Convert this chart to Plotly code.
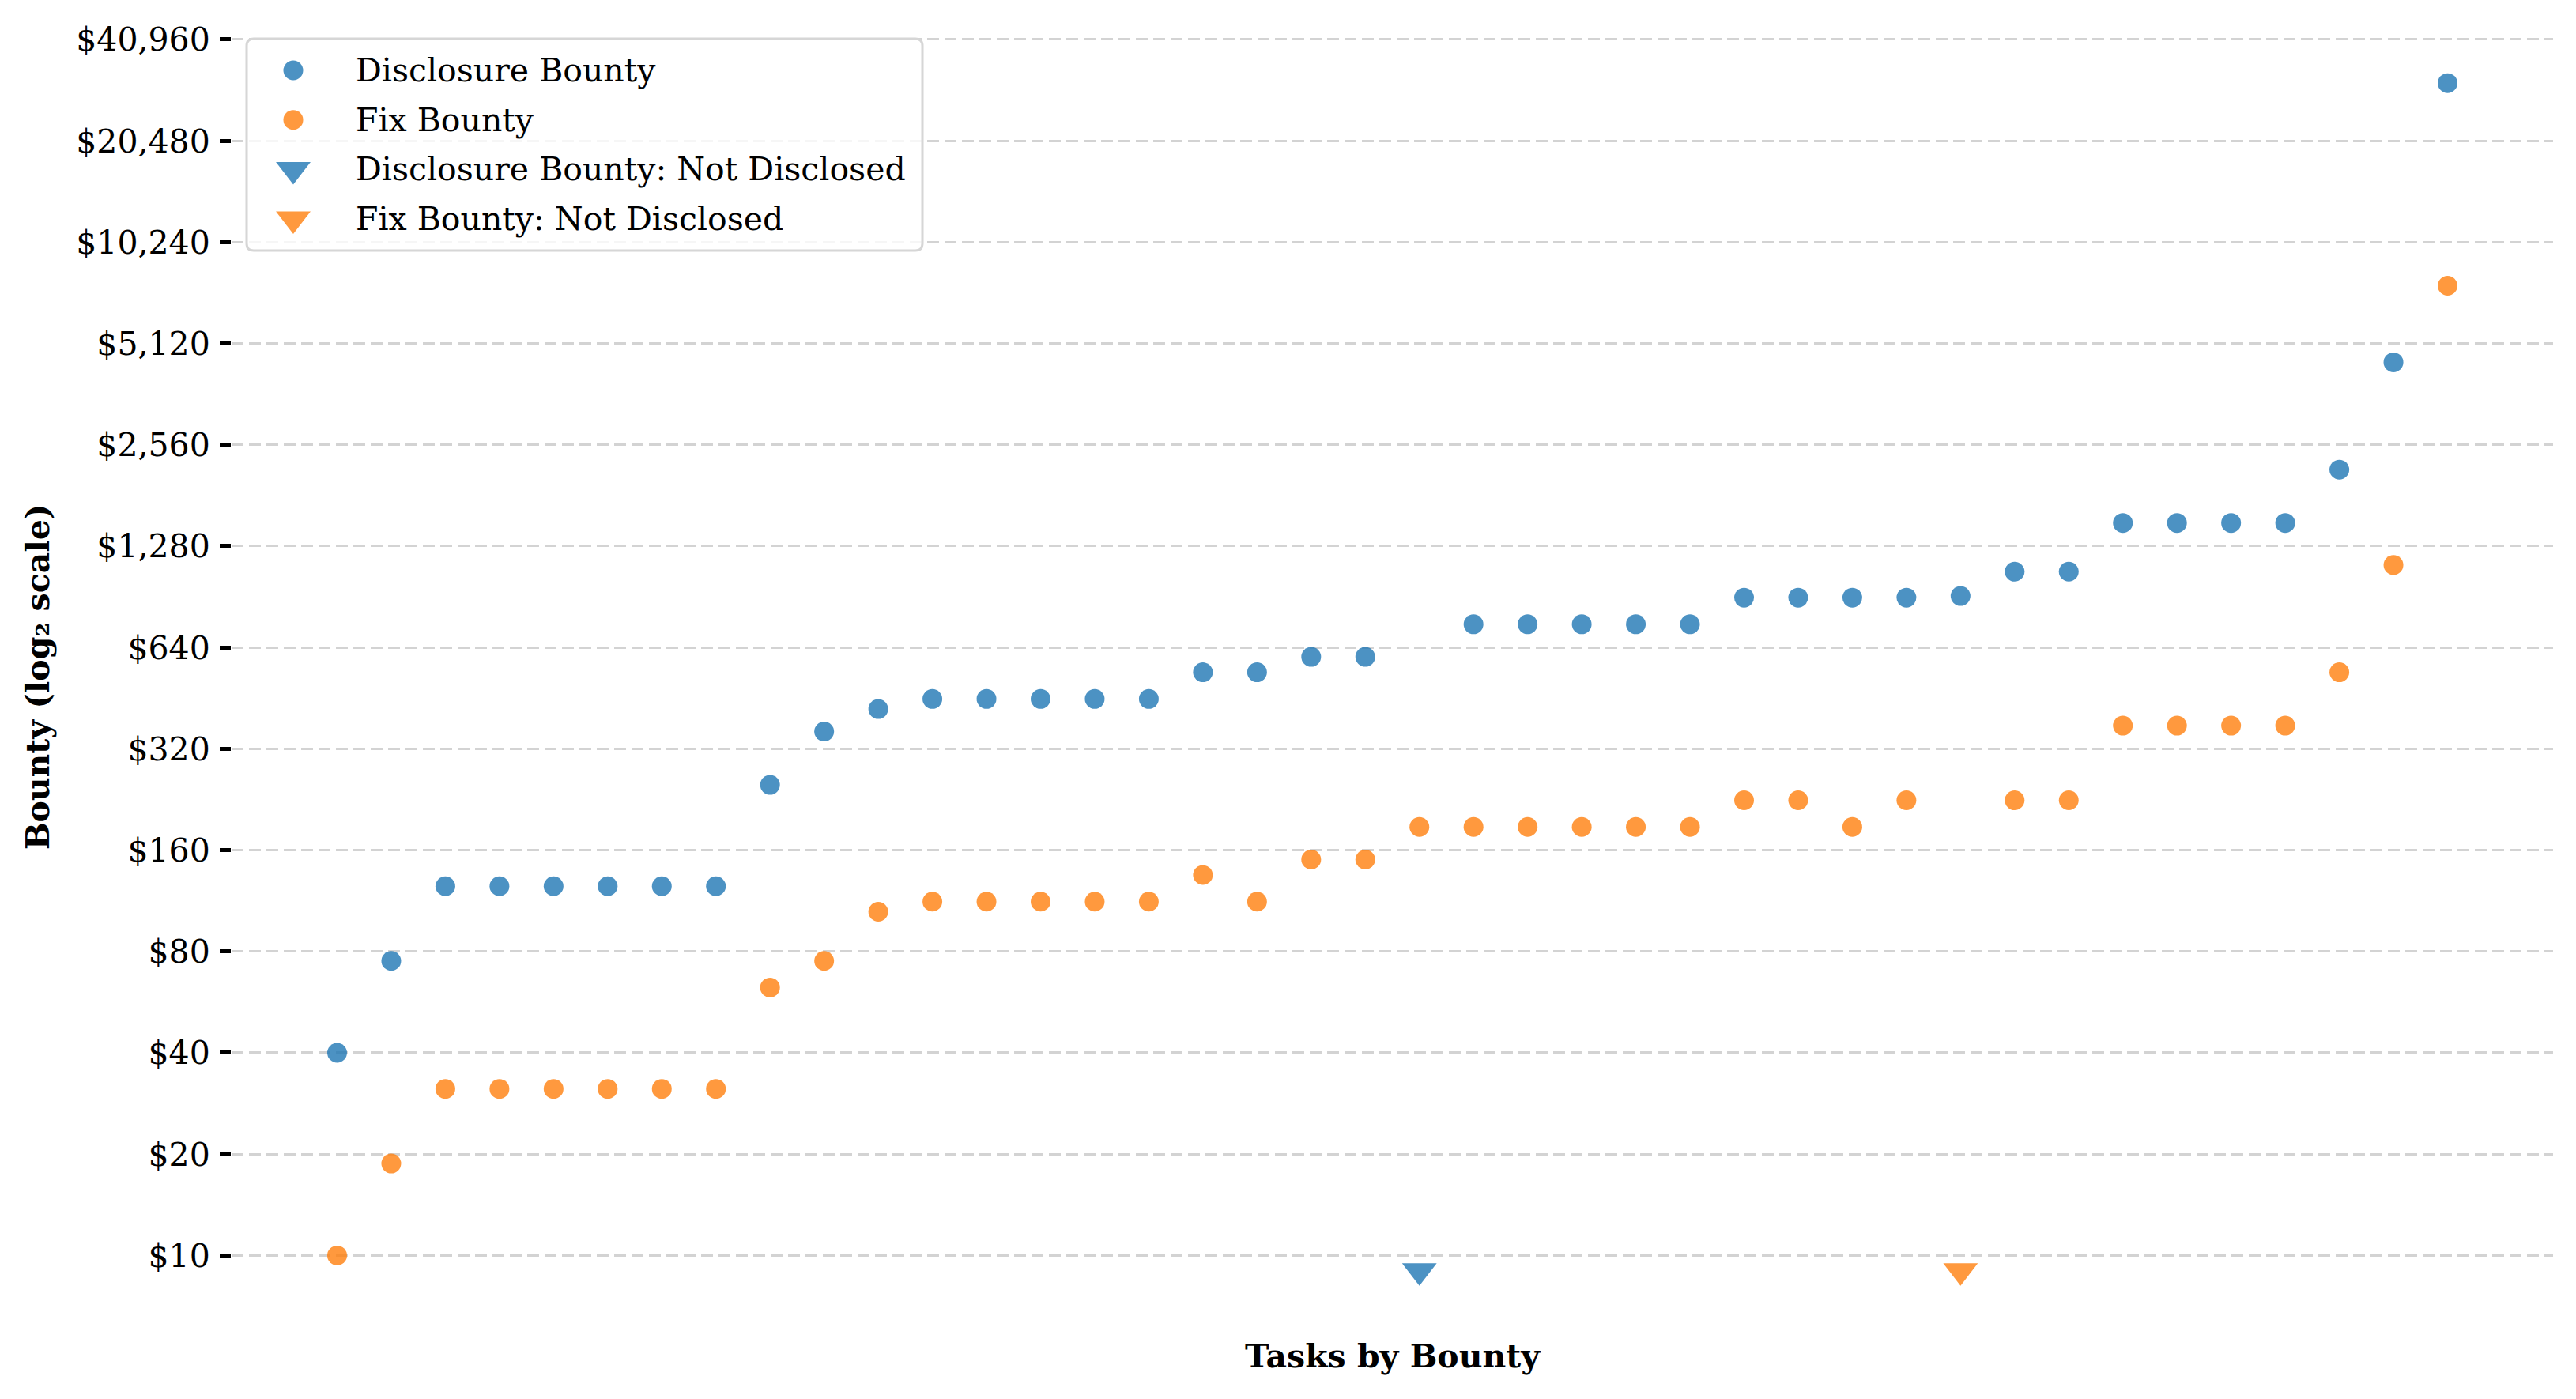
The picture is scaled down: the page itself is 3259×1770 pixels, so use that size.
import math
import plotly.graph_objects as go

# ---- data ----
tasks = list(range(40))
disclosure_bounty = [40, 75, 125, 125, 125, 125, 125, 125, 250, 360, 420,
                     450, 450, 450, 450, 450, 540, 540, 600, 600, None,
                     750, 750, 750, 750, 750, 900, 900, 900, 900, 910,
                     1075, 1075, 1500, 1500, 1500, 1500, 2160, 4500, 30400]
fix_bounty = [10, 18.75, 31.25, 31.25, 31.25, 31.25, 31.25, 31.25, 62.5, 75, 105,
              112.5, 112.5, 112.5, 112.5, 112.5, 135, 112.5, 150, 150, 187.5,
              187.5, 187.5, 187.5, 187.5, 187.5, 225, 225, 187.5, 225, None,
              225, 225, 375, 375, 375, 375, 540, 1125, 7600]
not_disclosed_value = 9
tick_values = [10, 20, 40, 80, 160, 320, 640, 1280, 2560, 5120, 10240, 20480, 40960]
tick_labels = [f"${v:,}" for v in tick_values]
series_names = ["Disclosure Bounty", "Fix Bounty",
                "Disclosure Bounty: Not Disclosed", "Fix Bounty: Not Disclosed"]

# ---- styles ----
BLUE = "#1f77b4"
ORANGE = "#ff7f0e"
FONT = "DejaVu Serif"
FS = 41
DOT = 25
TRI = 38

W, H = 3259, 1770
ml, mr, mt, mb = 293, 29, 30, 87
pw, ph = W - ml - mr, H - mt - mb

# legend layout (figure pixels)
LEG_X0, LEG_Y0, LEG_X1, LEG_Y1 = 312, 49, 1167, 317
LEG_ROW0, LEG_ROW_STEP = 89, 62.7
LEG_SYM_X, LEG_TEXT_X = 371, 448
LEG_R = 9

disc_x = [t for t, v in zip(tasks, disclosure_bounty) if v is not None]
disc_y = [v for v in disclosure_bounty if v is not None]
fix_x = [t for t, v in zip(tasks, fix_bounty) if v is not None]
fix_y = [v for v in fix_bounty if v is not None]
disc_nd_x = [t for t, v in zip(tasks, disclosure_bounty) if v is None]
fix_nd_x = [t for t, v in zip(tasks, fix_bounty) if v is None]

series_styles = [
    dict(color=BLUE, size=DOT, symbol="circle"),
    dict(color=ORANGE, size=DOT, symbol="circle"),
    dict(color=BLUE, size=TRI, symbol="triangle-down"),
    dict(color=ORANGE, size=TRI, symbol="triangle-down"),
]
series_xy = [
    (disc_x, disc_y),
    (fix_x, fix_y),
    (disc_nd_x, [not_disclosed_value] * len(disc_nd_x)),
    (fix_nd_x, [not_disclosed_value] * len(fix_nd_x)),
]

fig = go.Figure()
for name, (xs, ys), st in zip(series_names, series_xy, series_styles):
    fig.add_trace(go.Scatter(x=xs, y=ys, mode="markers", name=name, showlegend=False,
                             marker=dict(color=st["color"], size=st["size"], symbol=st["symbol"],
                                         opacity=0.8, line=dict(width=0))))

# legend drawn on a pixel-mapped helper subplot so symbol sizes match the plot
annotations = []
for i, (name, st) in enumerate(zip(series_names, series_styles)):
    row_y = LEG_ROW0 + i * LEG_ROW_STEP
    fig.add_trace(go.Scatter(x=[LEG_SYM_X], y=[row_y], mode="markers", showlegend=False,
                             hoverinfo="skip", xaxis="x2", yaxis="y2",
                             marker=dict(color=st["color"], size=st["size"], symbol=st["symbol"],
                                         opacity=0.8, line=dict(width=0))))
    annotations.append(dict(x=LEG_TEXT_X, y=row_y, xref="x2", yref="y2", text=name,
                            showarrow=False, xanchor="left", yanchor="middle",
                            font=dict(family=FONT, size=FS, color="black")))

r = LEG_R
x0, y0, x1, y1 = LEG_X0, LEG_Y0, LEG_X1, LEG_Y1
legend_path = (f"M{x0 + r},{y0} L{x1 - r},{y0} Q{x1},{y0} {x1},{y0 + r} "
               f"L{x1},{y1 - r} Q{x1},{y1} {x1 - r},{y1} L{x0 + r},{y1} "
               f"Q{x0},{y1} {x0},{y1 - r} L{x0},{y0 + r} Q{x0},{y0} {x0 + r},{y0} Z")

# matplotlib-like 5% margins
all_y = disc_y + fix_y + [not_disclosed_value]
lo, hi = math.log2(min(all_y)), math.log2(max(all_y))
pad = 0.05 * (hi - lo)
y_range = [(lo - pad) * math.log10(2), (hi + pad) * math.log10(2)]
xpad = 0.05 * (max(tasks) - min(tasks))
x_range = [min(tasks) - xpad, max(tasks) + xpad]

fig.update_layout(
    width=W, height=H,
    margin=dict(l=ml, r=mr, t=mt, b=mb),
    paper_bgcolor="white", plot_bgcolor="rgba(0,0,0,0)",
    font=dict(family=FONT, size=FS, color="black"),
    showlegend=False,
    annotations=annotations,
    shapes=[dict(type="path", path=legend_path, xref="x2", yref="y2", layer="between",
                 fillcolor="rgba(255,255,255,0.8)", line=dict(color="#d6d6d6", width=3))],
    xaxis=dict(range=x_range, showgrid=False, zeroline=False, showline=False,
               showticklabels=False, ticks="", domain=[0, 1],
               title=dict(text="<b>Tasks by Bounty</b>", standoff=18,
                          font=dict(family=FONT, size=FS))),
    yaxis=dict(type="log", range=y_range, tickvals=tick_values, ticktext=tick_labels,
               showgrid=True, gridcolor="#d3d3d3", gridwidth=3, griddash="15px,7px",
               zeroline=False, showline=False, domain=[0, 1],
               ticks="outside", ticklen=14, tickwidth=5, tickcolor="black",
               ticklabelstandoff=4,
               tickfont=dict(family=FONT, size=FS, color="black"),
               title=dict(text="<b>Bounty (log₂ scale)</b>", standoff=20,
                          font=dict(family=FONT, size=FS))),
    xaxis2=dict(range=[ml, W - mr], domain=[0, 1], anchor="y2", visible=False,
                fixedrange=True),
    yaxis2=dict(range=[H - mb, mt], domain=[0, 1], anchor="x2", visible=False,
                fixedrange=True),
)

fig.write_html("out.html", config=dict(displayModeBar=False),
               post_script="document.body.style.margin='0';document.body.style.padding='0';"
                           "document.body.style.overflow='hidden';")
